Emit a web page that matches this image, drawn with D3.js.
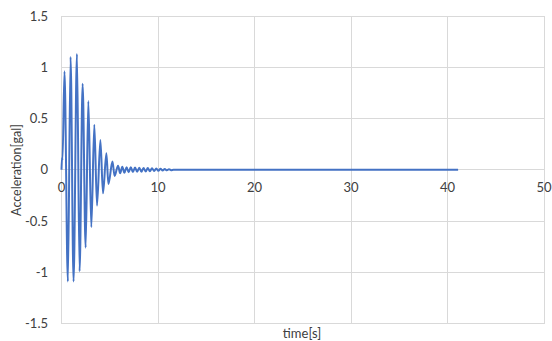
<!DOCTYPE html>
<html><head><meta charset="utf-8">
<script src="https://cdn.jsdelivr.net/npm/d3@7"></script>
<style>body{margin:0;background:#fff}svg{display:block}text{font-family:Lato,"Open Sans",sans-serif;fill:#404040}</style>
</head><body>
<script>
const time = [0,0.06,0.1,0.31,0.66,0.94,1.25,1.6,1.875,2.19,2.5,2.78,3.09,3.4,3.68,4.03,4.3,4.65,4.86,5.28,5.5,
  5.86,6.08,6.3,6.52,6.74,6.96,7.18,7.4,7.62,7.84,8.06,8.28,8.5,8.72,8.94,9.16,9.38,9.6,9.82,10.04,10.26,10.48,10.7,10.92,11.14,11.36,11.6,41.1];
const accel = [0,0.12,0.09,0.96,-1.09,1.1,-1.09,1.13,-0.99,0.84,-0.76,0.67,-0.56,0.44,-0.35,0.29,-0.23,0.16,-0.14,0.08,-0.06,
  0.04,-0.035,0.03,-0.03,0.025,-0.025,0.025,-0.022,0.022,-0.02,0.02,-0.02,0.018,-0.018,0.016,-0.015,0.014,-0.012,0.012,-0.01,0.009,-0.008,0.007,-0.006,0.005,-0.004,0,0];
const xTicks = [0,10,20,30,40,50];
const yTicks = [-1.5,-1,-0.5,0,0.5,1,1.5];
const xTitle = "time[s]";
const yTitle = "Acceleration[gal]";

const W=552,H=341, L=61.5,R=544,T=16,B=323.5;
const svg=d3.select("body").append("svg").attr("width",W).attr("height",H);
const x=d3.scaleLinear().domain([0,50]).range([L,R]);
const y=d3.scaleLinear().domain([-1.5,1.5]).range([B,T]);

svg.append("g").selectAll("line").data(xTicks).join("line")
  .attr("x1",d=>x(d)).attr("x2",d=>x(d)).attr("y1",T).attr("y2",B)
  .attr("stroke","#d9d9d9").attr("stroke-width",1).attr("shape-rendering","crispEdges");
svg.append("g").selectAll("line").data(yTicks).join("line")
  .attr("x1",L).attr("x2",R).attr("y1",d=>y(d)).attr("y2",d=>y(d))
  .attr("stroke","#d9d9d9").attr("stroke-width",1).attr("shape-rendering","crispEdges");

svg.append("g").selectAll("text").data(yTicks).join("text")
  .attr("x",48).attr("y",d=>y(d)).attr("dy","0.35em").attr("text-anchor","end")
  .attr("font-size",13).text(d=>d);
svg.append("g").selectAll("text").data(xTicks).join("text")
  .attr("x",d=>x(d)).attr("y",y(0)+22).attr("text-anchor","middle")
  .attr("font-size",13).text(d=>d);

svg.append("text").attr("x",302).attr("y",338).attr("text-anchor","middle").attr("font-size",13).text(xTitle);
svg.append("text").attr("transform",`translate(21,170) rotate(-90)`).attr("text-anchor","middle").attr("font-size",12.5).text(yTitle);

const pts=time.map((t,i)=>[t,accel[i]]);
svg.append("path").datum(pts)
  .attr("d",d3.line().x(d=>x(d[0])).y(d=>y(d[1])).curve(d3.curveMonotoneX))
  .attr("fill","none").attr("stroke","#4472C4").attr("stroke-width",2).attr("stroke-linejoin","round");
</script>
</body></html>
